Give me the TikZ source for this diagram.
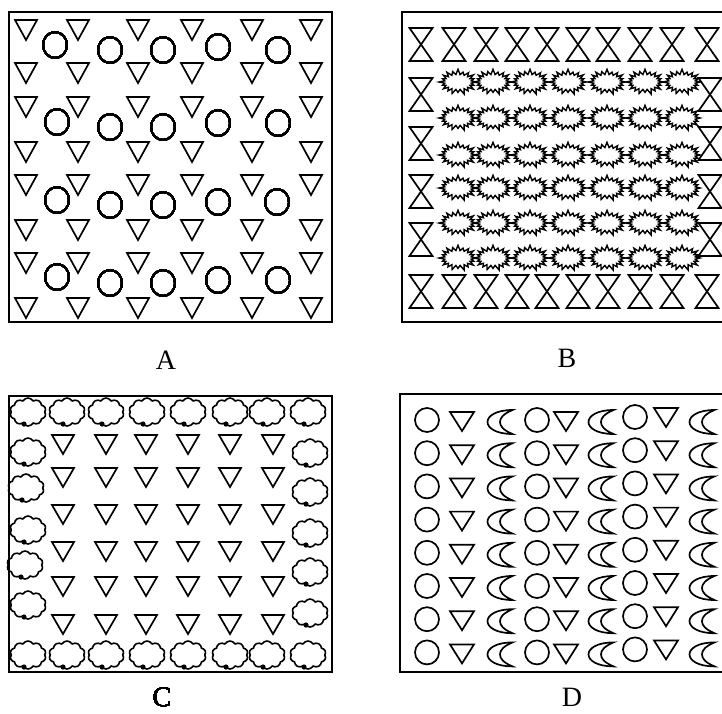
\documentclass[tikz,border=0pt]{standalone}
\usepackage{fontspec}
\setmainfont{Liberation Serif}
\usetikzlibrary{shapes.symbols}
\newcommand\mytri[4]{\draw[shp] ({#1-#3/2},#2) -- ({#1+#3/2},#2) -- (#1,{#2+#4}) -- cycle;}
\newcommand\myhg[2]{\draw[shp] ({#1-11.5},#2) -- ({#1+11.5},#2) -- ({#1-11.5},{#2+33}) -- ({#1+11.5},{#2+33}) -- cycle;}
\begin{document}
\begin{tikzpicture}[x=1pt,y=-1pt,
  shp/.style={line width=1.7pt, line join=miter},
  frame/.style={line width=1.8pt},
  lab/.style={font=\fontsize{28}{30}\selectfont, anchor=base, inner sep=0pt},
  cloudy/.style={cloud, cloud puffs=10, cloud puff arc=120, aspect=1.3, draw, line width=1.6pt, minimum width=36pt, minimum height=28pt, inner sep=0pt},
  burst/.pic={\draw[line width=1.4pt, line join=miter, miter limit=6] (18,0)
     \foreach \a/\f in {18/0.92,36/1.05,54/0.95,72/1.1,90/0.9,108/1.05,126/0.95,144/1.0,162/0.9,180/1.05,198/0.9,216/1.0,234/1.05,252/0.95,270/1.1,288/0.9,306/1.0,324/1.05,342/0.92}
       { -- ({13.5*cos(\a-9)},{7.5*sin(\a-9)}) -- ({18*\f*cos(\a)},{11.5*\f*sin(\a)}) }
     -- ({13.5*cos(351)},{7.5*sin(351)}) -- cycle;},
  moon/.pic={\draw[shp] (12.5,-12) .. controls (-4,-12) and (-12.5,-6) .. (-12.5,0) .. controls (-12.5,6) and (-4,12) .. (12.5,12) .. controls (3,8) and (0,4) .. (0,0) .. controls (0,-4) and (3,-8) .. (12.5,-12) -- cycle;}
]
\useasboundingbox (0,0) rectangle (722,713);
\fill[white] (0,0) rectangle (722,713);

% ---------- Panel A ----------
\draw[frame] (9,12) rectangle (332,322);
\foreach \t in {20,63,97,142,175,220,253,298}
  \foreach \x in {26,78,138,192,252,311}
    \mytri{\x}{\t}{22}{20}
\foreach \cx/\cy in {55/45,110/50,163/50,218/47,278/50,
                     57/122,110/127,163/127,218/123,278/123,
                     57/200,110/205,163/205,218/202,277/202,
                     57/277,110/283,163/283,218/280,278/280}
  \draw[shp] (\cx,\cy) ellipse (12 and 13);
\node[lab] (la) at (166,369) {A};

% ---------- Panel B ----------
\draw[frame] (724,12) -- (402,12) -- (402,322) -- (724,322);
\foreach \x in {421,454,486,517,547,578,608,640,672,707}
  {\myhg{\x}{28}\myhg{\x}{275}}
\foreach \t in {78,127,175,223}
  {\myhg{421}{\t}\myhg{710}{\t}}
\foreach \y in {82,118,155,188,223,258}
  \foreach \x in {458,493,530,568,607,645,682}
    \pic at (\x,\y) {burst};
\node[lab] (lb) at (567,367) {B};

% ---------- Panel C ----------
\draw[frame] (9,396) rectangle (332,672);
\foreach \x/\y [count=\n] in {28/412,67/412,106/412,147/412,188/412,230/412,267/412,308/412,
                    28/452,26/488,28/530,25/565,28/605,
                    310/453,310/492,310/533,310/572,310/613,
                    28/655,67/655,106/655,147/655,188/655,230/655,267/655,308/655}
  {\node[cloudy] (cl\n) at (\x,\y) {};
   \fill ({\x-4},{\y+12}) circle (2.6);}
\foreach \t in {435,468,505,542,577,615}
  \foreach \x in {63,106,146,188,230,273}
    \mytri{\x}{\t}{22}{19}
\node[lab] (lc) at (162,706) {C};

% ---------- Panel D ----------
\draw[frame] (724,394) -- (400,394) -- (400,672) -- (724,672);
\foreach \i in {0,...,7}
  {\pgfmathsetmacro\cy{420+33.2*\i}
   \draw[shp] (427,\cy) circle (12);
   \draw[shp] (537,\cy) circle (12);
   \draw[shp] (635,{\cy-3}) circle (12);
   \mytri{462}{\cy-8}{24}{19}
   \mytri{566}{\cy-8}{24}{19}
   \mytri{666}{\cy-12}{24}{19}
   \pic at (500,{\cy+2}) {moon};
   \pic at (601,{\cy+2}) {moon};
   \pic at (702,{\cy+2}) {moon};}
\node[lab] (ld) at (572,706) {D};
\end{tikzpicture}
\end{document}
